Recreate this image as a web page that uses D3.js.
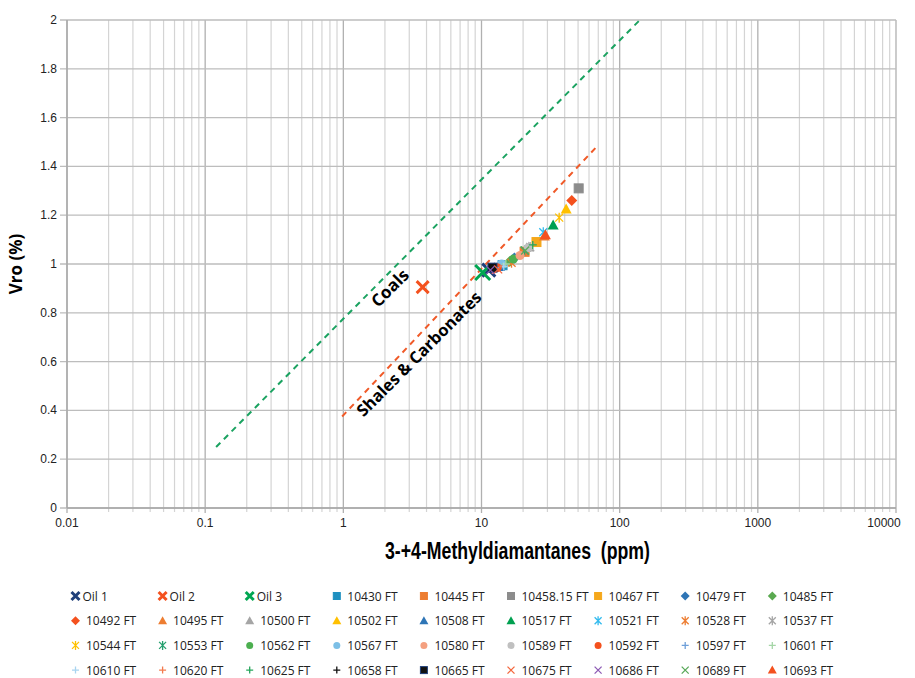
<!DOCTYPE html>
<html><head><meta charset="utf-8">
<script src="https://cdn.jsdelivr.net/npm/d3@7"></script>
<style>
body{margin:0;background:#fff;}
text{font-family:"Open Sans",sans-serif;}
</style></head>
<body><svg id="c" width="915" height="678"></svg>
<script>
// ---- data ----
const seriesNames = ["Oil 1","Oil 2","Oil 3","10430 FT","10445 FT","10458.15 FT","10467 FT","10479 FT","10485 FT",
 "10492 FT","10495 FT","10500 FT","10502 FT","10508 FT","10517 FT","10521 FT","10528 FT","10537 FT",
 "10544 FT","10553 FT","10562 FT","10567 FT","10580 FT","10589 FT","10592 FT","10597 FT","10601 FT",
 "10610 FT","10620 FT","10625 FT","10658 FT","10665 FT","10675 FT","10686 FT","10689 FT","10693 FT"];
const xValues = [11.3,3.75,10.2,14.2,20.5,50.5,25,17.3,16,
 45,28.5,22,41,13.5,33,28,16.5,22.5,
 36.5,20.5,17,14,19,21.8,13,12.5,15,
 14.5,12,23.5,12.3,12,13.2,11.6,20.7,29];
const yValues = [0.975,0.905,0.965,0.995,1.05,1.31,1.09,1.025,1.01,
 1.26,1.115,1.07,1.225,0.99,1.16,1.13,1.005,1.07,
 1.19,1.055,1.02,1.0,1.035,1.067,0.985,0.985,1.0,
 0.99,0.975,1.078,0.98,0.985,0.978,0.975,1.055,1.12];
const colors = ["#1f3f7a","#f4511e","#00a651","#1e90c0","#ed7d31","#8c8c8c","#f5a81c","#2e75b6","#5aa950",
 "#f4511e","#ed7d31","#a5a5a5","#ffc000","#2e75b6","#00a050","#33bbee","#ed7d31","#a5a5a5",
 "#ffc000","#26a06f","#4caf50","#7cbfe6","#f4a080","#c0c0c0","#f4511e","#6e9fd9","#a5d6a7",
 "#a8d4f0","#f47b4e","#26a65b","#111111","#111111","#f4673d","#8e5cb5","#5aa95a","#f4511e"];
const shapes = ["bigx","bigx","bigx","square","square","square","square","diamond","diamond",
 "diamond","triangle","triangle","triangle","triangle","triangle","asterisk","asterisk","asterisk",
 "asterisk","asterisk","circle","circle","circle","circle","circle","plus","plus",
 "plus","plus","plus","plus","square","x","x","x","triangle"];
const coalsX = [0.12, 140];
const coalsY = [0.25, 2.0];
const shalesX = [0.98, 68];
const shalesY = [0.375, 1.48];
const xTicks = [0.01,0.1,1,10,100,1000,10000];
const xTickLabels = ["0.01","0.1","1","10","100","1000","10000"];
const yTicks = [0,0.2,0.4,0.6,0.8,1,1.2,1.4,1.6,1.8,2];

// ---- layout ----
const svg = d3.select("#c");
const L=67,R=896,T=20,B=508;
const x = d3.scaleLog().domain([0.01,10000]).range([L,R]);
const y = d3.scaleLinear().domain([0,2]).range([B,T]);

// minor grid
const minor=[];
for(let e=-2;e<4;e++) for(let k=2;k<10;k++) minor.push(k*Math.pow(10,e));
const g = svg.append("g");
g.selectAll(".mn").data(minor).enter().append("line")
 .attr("x1",d=>x(d)).attr("x2",d=>x(d)).attr("y1",T).attr("y2",B+4)
 .attr("stroke","#d4d4d4").attr("stroke-width",1.2);
g.selectAll(".mj").data(xTicks).enter().append("line")
 .attr("x1",d=>x(d)).attr("x2",d=>x(d)).attr("y1",T).attr("y2",B+5)
 .attr("stroke","#b0b0b0").attr("stroke-width",1.3);
g.selectAll(".hy").data(yTicks).enter().append("line")
 .attr("x1",L-7).attr("x2",R).attr("y1",d=>y(d)).attr("y2",d=>y(d))
 .attr("stroke","#bdbdbd").attr("stroke-width",1.3);
// axes lines
svg.append("line").attr("x1",L).attr("x2",L).attr("y1",T).attr("y2",B).attr("stroke","#a6a6a6").attr("stroke-width",1.3);
svg.append("line").attr("x1",L).attr("x2",R).attr("y1",B).attr("y2",B).attr("stroke","#a6a6a6").attr("stroke-width",1.3);

// tick labels
const tickFont = '"Liberation Sans Narrow","Arial Narrow",sans-serif';
svg.selectAll(".yl").data(yTicks).enter().append("text")
 .attr("x",L-10).attr("y",d=>y(d)+4).attr("text-anchor","end")
 .style("font-family",tickFont).style("font-size","12px").attr("fill","#222")
 .text(d=>d3.format("~g")(d));
svg.selectAll(".xl").data(xTicks).enter().append("text")
 .attr("x",(d,i)=> i===xTicks.length-1 ? x(d)-12 : x(d)).attr("y",B+19).attr("text-anchor","middle")
 .style("font-family",tickFont).style("font-size","12px").attr("fill","#222")
 .text((d,i)=>xTickLabels[i]);

// axis titles
svg.append("text").attr("transform",`translate(${22},${(T+B)/2}) rotate(-90)`)
 .attr("text-anchor","middle").style("font-family","'Open Sans',sans-serif").style("font-weight","bold").style("font-size","17px")
 .text("Vro (%)");
svg.append("text").attr("x",385).attr("y",559).attr("text-anchor","start")
 .attr("textLength",265).attr("lengthAdjust","spacingAndGlyphs")
 .style("font-family",tickFont).style("font-weight","bold").style("font-size","23px")
 .style("white-space","pre")
 .text("3-+4-Methyldiamantanes  (ppm)");

// trend lines
const line = d3.line().x(d=>x(d[0])).y(d=>y(d[1]));
svg.append("path").datum(coalsX.map((v,i)=>[v,coalsY[i]])).attr("d",line)
 .attr("stroke","#1aa260").attr("stroke-width",2).attr("stroke-dasharray","6,5").attr("fill","none");
svg.append("path").datum(shalesX.map((v,i)=>[v,shalesY[i]])).attr("d",line)
 .attr("stroke","#f05a28").attr("stroke-width",2).attr("stroke-dasharray","6,5").attr("fill","none");

// labels on lines
svg.append("text").attr("transform","translate(390,288) rotate(-45)").attr("text-anchor","middle")
 .style("font-weight","bold").style("font-size","17px").attr("dy","0.35em").text("Coals");
svg.append("text").attr("transform","translate(419,354) rotate(-45)").attr("text-anchor","middle")
 .style("font-weight","bold").style("font-size","16.5px").attr("dy","0.35em").text("Shales & Carbonates");

// marker drawing
function drawMarker(sel, shape, color, s){
  const h=s/2;
  if(shape==="square") sel.append("rect").attr("x",-h).attr("y",-h).attr("width",s).attr("height",s).attr("fill",color)
     .attr("stroke", color==="#111111"?"#1f3f7a":color).attr("stroke-width",1);
  else if(shape==="diamond") sel.append("path").attr("d",`M0,${-h-1}L${h+1},0L0,${h+1}L${-h-1},0Z`).attr("fill",color);
  else if(shape==="triangle") sel.append("path").attr("d",`M0,${-h-1}L${h+1},${h}L${-h-1},${h}Z`).attr("fill",color);
  else if(shape==="circle") sel.append("circle").attr("r",h).attr("fill",color);
  else if(shape==="plus") sel.append("path").attr("d",`M${-h},0H${h}M0,${-h}V${h}`).attr("stroke",color).attr("stroke-width",1.3);
  else if(shape==="x") sel.append("path").attr("d",`M${-h},${-h}L${h},${h}M${h},${-h}L${-h},${h}`).attr("stroke",color).attr("stroke-width",1.3);
  else if(shape==="asterisk") sel.append("path").attr("d",`M${-h},${-h}L${h},${h}M${h},${-h}L${-h},${h}M0,${-h-1}V${h+1}`).attr("stroke",color).attr("stroke-width",1.3);
  else if(shape==="bigx") sel.append("path").attr("d",`M${-h},${-h}L${h},${h}M${h},${-h}L${-h},${h}`).attr("stroke",color).attr("stroke-width",3);
}

const pts = svg.append("g");
d3.range(seriesNames.length).forEach(i=>{
  const gg = pts.append("g").attr("transform",`translate(${x(xValues[i])},${y(yValues[i])})`);
  let s = 9;
  if(i===1) s=12; else if(i===2) s=15; else if(i===0) s=13;
  if(shapes[i]==="x"||shapes[i]==="plus"||shapes[i]==="asterisk") s=8;
  drawMarker(gg, shapes[i], colors[i], s);
});

// legend
const leg = svg.append("g");
seriesNames.forEach((nm,i)=>{
  const col=i%9, row=Math.floor(i/9);
  const mx = 75.5 + col*87.1, my = 596 + row*24.7;
  const gg = leg.append("g").attr("transform",`translate(${mx},${my})`);
  const isOil = shapes[i]==="bigx";
  drawMarker(gg, shapes[i], colors[i], isOil?8:7);
  leg.append("text").attr("x", mx + (isOil?7:10.5)).attr("y", my+4.5)
   .style("font-size","12px").attr("fill","#222").text(nm);
});
</script></body></html>
